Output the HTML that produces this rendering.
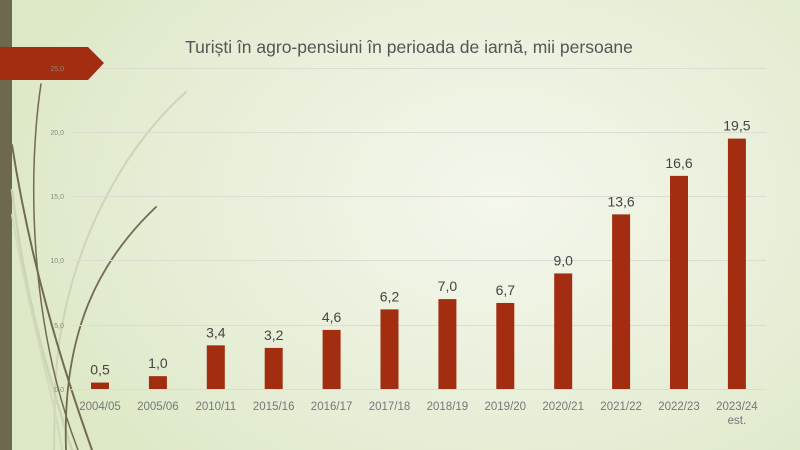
<!DOCTYPE html>
<html><head><meta charset="utf-8"><style>
html,body{margin:0;padding:0}
body{width:800px;height:450px;overflow:hidden;position:relative;font-family:"Liberation Sans",sans-serif;
background:radial-gradient(ellipse 520px 380px at 500px 200px,#f4f7ec 0%,#e8efd9 55%,#dde8c6 100%);}
</style></head><body>
<svg width="800" height="450" style="position:absolute;left:0;top:0" font-family="Liberation Sans, sans-serif">
<rect x="0" y="0" width="12" height="450" fill="#6f6850"/>
<g fill="none" stroke-linecap="round">
<path d="M186,92 C120,150 60,260 55,390 L54,450" stroke="#cfd4b8" stroke-width="2"/>
<path d="M12,190 C25,300 50,380 72,450" stroke="#cdd4b5" stroke-width="2.5"/>
<path d="M12,215 C30,320 55,400 62,450" stroke="#d3d9be" stroke-width="2"/>
<path d="M41,84 C28,170 28,320 78,450" stroke="#726a52" stroke-width="1.5"/>
<path d="M12,145 C30,260 60,360 92,450" stroke="#726a52" stroke-width="2"/>
<path d="M156,207 C100,260 62,330 66,450" stroke="#726a52" stroke-width="1.8"/>
</g>
<g stroke="#dcdcd4" stroke-width="1">
<line x1="71" x2="766" y1="68.5" y2="68.5"/>
<line x1="71" x2="766" y1="132.5" y2="132.5"/>
<line x1="71" x2="766" y1="196.5" y2="196.5"/>
<line x1="71" x2="766" y1="260.5" y2="260.5"/>
<line x1="71" x2="766" y1="325.5" y2="325.5"/>
<line x1="71" x2="766" y1="389.5" y2="389.5"/>
</g>
<polygon points="0,47 88,47 104,63 88,80 0,80" fill="#a22d10"/>
<g font-size="7" fill="#8a8a80" text-anchor="end">
<text x="64" y="71">25,0</text><text x="64" y="135">20,0</text><text x="64" y="199">15,0</text>
<text x="64" y="263">10,0</text><text x="64" y="328">5,0</text><text x="64" y="392">0,0</text>
</g>
<text x="409" y="53" font-size="17.5" fill="#555" text-anchor="middle">Turiști în agro-pensiuni în perioada de iarnă, mii persoane</text>
<g id="bars" fill="#a22d10"></g>
<g id="lab" font-size="14" fill="#444" text-anchor="middle"></g>
<g id="cat" font-size="11.5" fill="#777" text-anchor="middle"></g>
</svg>
<script>
var v=[0.5,1.0,3.4,3.2,4.6,6.2,7.0,6.7,9.0,13.6,16.6,19.5];
var c=["2004/05","2005/06","2010/11","2015/16","2016/17","2017/18","2018/19","2019/20","2020/21","2021/22","2022/23","2023/24"];
var ns="http://www.w3.org/2000/svg",b=document.getElementById("bars"),l=document.getElementById("lab"),k=document.getElementById("cat");
for(var i=0;i<12;i++){var cx=100+57.9*i,h=v[i]*12.84,y=389-h;
var r=document.createElementNS(ns,"rect");r.setAttribute("x",cx-9);r.setAttribute("y",y);r.setAttribute("width",18);r.setAttribute("height",h);b.appendChild(r);
var t=document.createElementNS(ns,"text");t.setAttribute("x",cx);t.setAttribute("y",y-8);t.textContent=v[i].toFixed(1).replace(".",",");l.appendChild(t);
var u=document.createElementNS(ns,"text");u.setAttribute("x",cx);u.setAttribute("y",410);u.textContent=c[i];k.appendChild(u);}
var e=document.createElementNS(ns,"text");e.setAttribute("x",100+57.9*11);e.setAttribute("y",424);e.textContent="est.";k.appendChild(e);
</script>
</body></html>
